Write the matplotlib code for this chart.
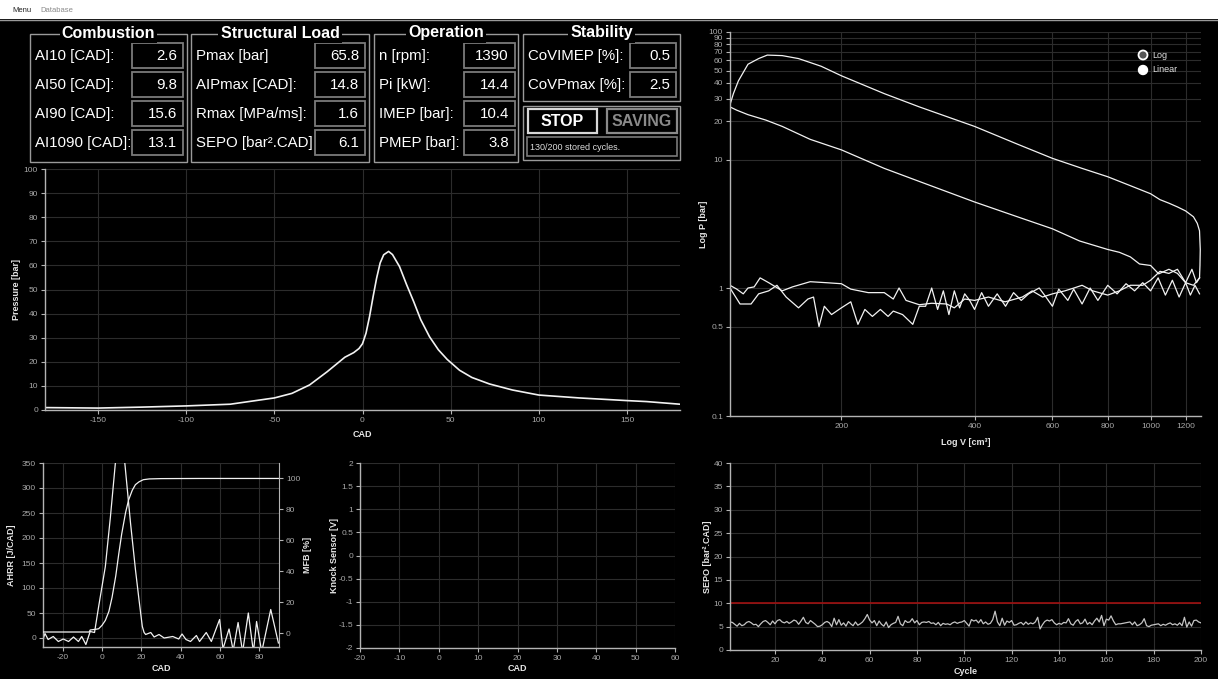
import matplotlib.pyplot as plt
from matplotlib.patches import Rectangle, Circle

plt.rcParams['font.family'] = ['Liberation Sans', 'DejaVu Sans']
plt.rcParams['axes.unicode_minus'] = False

W, H = 1218, 679

# ---- indicator panel values ----
group_titles = ["Combustion", "Structural Load", "Operation", "Stability"]
combustion_labels = ["AI10 [CAD]:", "AI50 [CAD]:", "AI90 [CAD]:", "AI1090 [CAD]:"]
combustion_values = ["2.6", "9.8", "15.6", "13.1"]
structural_labels = ["Pmax [bar]", "AIPmax [CAD]:", "Rmax [MPa/ms]:", "SEPO [bar².CAD]"]
structural_values = ["65.8", "14.8", "1.6", "6.1"]
operation_labels = ["n [rpm]:", "Pi [kW]:", "IMEP [bar]:", "PMEP [bar]:"]
operation_values = ["1390", "14.4", "10.4", "3.8"]
stability_labels = ["CoVIMEP [%]:", "CoVPmax [%]:"]
stability_values = ["0.5", "2.5"]
status_text = "130/200 stored cycles."

# ---- pressure trace ----
cad = [-180, -150, -125, -100, -75, -50, -40, -30, -20, -10, -5, -2, 0, 2, 4, 6, 8, 10, 12,
       14.8, 17, 21, 25, 29, 33, 38, 43, 48, 55, 62, 72, 85, 100, 123, 150, 161, 180]
pressure = [1.0, 0.8, 1.2, 1.7, 2.4, 5.0, 6.9, 10.4, 15.9, 21.9, 23.8, 25.5, 27.5, 31.9, 38.8,
            47.0, 54.7, 61.0, 64.4, 65.8, 64.5, 59.5, 52.0, 45.0, 37.5, 30.4, 25.0, 21.0, 16.5,
            13.5, 10.8, 8.3, 6.2, 5.0, 3.9, 3.5, 2.4]

# ---- PV diagram (log-log) ----
v_exp = [112, 114, 117, 123, 130, 136, 147, 160, 180, 200, 250, 300, 400, 500, 600, 700, 800,
         900, 1000, 1050, 1100, 1150, 1200, 1250, 1275, 1290, 1295, 1293, 1290]
p_exp = [27, 33, 41.5, 56, 62, 66, 65.4, 62, 54, 45.5, 33, 26, 18.3, 13.3, 10.3, 8.6, 7.4,
         6.3, 5.45, 4.9, 4.6, 4.3, 4.0, 3.6, 3.2, 2.8, 2.0, 1.5, 1.2]
v_comp = [1290, 1250, 1200, 1150, 1100, 1043, 1000, 944, 900, 850, 800, 691, 600, 500, 400,
          300, 250, 200, 170, 147, 135, 123, 116, 112]
p_comp = [1.2, 1.05, 1.1, 1.3, 1.4, 1.29, 1.5, 1.54, 1.75, 1.9, 2.0, 2.33, 2.9, 3.6, 4.7,
          6.8, 8.6, 12, 14.5, 18.3, 20.5, 22.6, 24.5, 26]
v_exh = [1290, 1270, 1240, 1200, 1150, 1100, 1050, 1000, 960, 900, 850, 800, 740, 700, 671,
         640, 600, 570, 540, 513, 469, 430, 400, 380, 360, 346, 320, 300, 280, 270, 262, 250,
         230, 210, 200, 185, 170, 155, 147, 137, 131, 127, 123, 120, 116, 112]
p_exh = [1.2, 1.1, 1.4, 1.1, 1.4, 1.3, 1.35, 1.15, 1.05, 1.05, 0.95, 0.88, 0.95, 1.05, 1.0,
         0.95, 0.9, 0.85, 0.95, 0.85, 0.78, 0.85, 0.8, 0.82, 0.7, 0.75, 0.76, 0.74, 0.8, 1.0,
         0.82, 0.92, 0.92, 0.98, 1.08, 1.1, 1.12, 1.02, 0.95, 1.1, 1.2, 1.02, 1.0, 0.9, 0.98, 1.05]
v_int = [112, 118, 125, 130, 137, 143, 150, 160, 168, 173, 178, 183, 190, 200, 210, 218, 226,
         235, 245, 255, 262, 275, 290, 300, 310, 320, 330, 340, 350, 360, 370, 380, 390, 400,
         415, 430, 450, 470, 490, 510, 530, 560, 580, 600, 620, 650, 670, 700, 730, 760, 800,
         840, 880, 920, 960, 1000, 1040, 1080, 1120, 1160, 1200, 1230, 1260, 1290]
p_int = [1.0, 0.75, 0.75, 0.9, 0.95, 1.05, 0.85, 0.7, 0.82, 0.85, 0.5, 0.72, 0.62, 0.7, 0.78,
         0.52, 0.68, 0.6, 0.68, 0.6, 0.66, 0.62, 0.52, 0.72, 0.72, 1.0, 0.68, 0.95, 0.62, 0.95,
         0.7, 0.9, 0.8, 0.68, 0.92, 0.72, 0.9, 0.72, 0.92, 0.8, 0.9, 1.0, 0.85, 0.72, 0.98, 0.8,
         0.98, 0.75, 1.0, 0.8, 1.05, 0.9, 1.08, 0.95, 1.1, 0.95, 1.2, 0.88, 1.15, 0.85, 1.1,
         0.88, 1.05, 0.9]

# ---- heat release ----
cad_hr = [-30, -29, -27.4, -24.8, -22.2, -19.7, -17, -14.5, -12, -10.3, -8.2, -6, -3.8, -1.7,
          1.7, 4.3, 6.8, 9, 11.6, 14.5, 17, 18.8, 20.5, 21.4, 22.2, 24.8, 26.5, 29, 31.6, 36,
          39, 40.7, 42.7, 45, 48, 49.6, 53, 55.6, 59.8, 61.5, 64.6, 66.7, 69.2, 71.5, 74.4, 77,
          78.6, 81.2, 85.8, 89.7]
ahrr = [-3, 9, -3, 3, -7, -2, -7, 2, -7, 3, -13, 13, 11, 63, 143, 243, 350, 410, 350, 230, 137,
        77, 23, 11, 7, 11, 2, 7, 0, 3, -2, 8, -3, -7, 5, -7, 11, -7, 37, -22, 18, -25, 31, -28,
        50, -28, 33, -28, 57, -10]
cad_mfb = [-30, -6.5, -6, -3, -1.7, 0, 1.7, 3.5, 5.1, 7, 8.5, 10, 12, 13.5, 15.4, 17, 18.8, 21,
           24, 30, 50, 90]
mfb = [0.7, 0.7, 2, 2.5, 2.8, 5, 8.2, 14, 23, 37, 51, 64, 78, 86, 92.4, 96, 97.8, 99.2, 99.7,
       99.9, 100, 100]

# ---- SEPO per cycle ----
sepo = [6.0, 5.9, 5.5, 5.1, 5.7, 5.2, 5.4, 5.9, 6.1, 5.8, 5.4, 5.5, 5.0, 5.6, 6.1, 6.3, 5.9, 5.4, 6.2, 5.6,
        6.3, 6.5, 6.0, 5.8, 6.1, 5.7, 6.0, 6.4, 6.2, 5.5, 6.2, 7.0, 5.9, 5.6, 6.3, 5.9, 5.5, 5.0, 5.1, 5.4,
        5.9, 6.1, 5.8, 5.0, 6.8, 5.4, 6.5, 5.3, 5.8, 5.1, 6.1, 5.6, 5.2, 6.0, 5.3, 5.6, 6.0, 6.7, 7.6, 6.4,
        5.8, 6.3, 5.2, 6.2, 5.5, 5.1, 6.0, 4.8, 5.4, 5.7, 5.9, 7.2, 5.6, 5.2, 6.3, 5.9, 6.0, 6.7, 5.8, 6.3,
        5.4, 5.9, 6.0, 5.9, 6.1, 5.7, 5.8, 5.4, 5.9, 5.2, 5.7, 5.5, 5.6, 5.4, 5.8, 6.0, 5.7, 5.9, 6.0, 6.3,
        5.7, 5.1, 6.5, 6.2, 6.4, 5.8, 6.5, 5.6, 6.0, 5.5, 5.7, 6.5, 8.3, 6.0, 5.2, 6.8, 5.3, 6.2, 5.9, 6.3,
        5.3, 5.4, 5.7, 5.9, 5.4, 6.0, 5.5, 5.8, 5.6, 6.0, 7.0, 4.5, 5.4, 6.1, 6.4, 6.2, 6.5, 5.8, 5.4, 5.7,
        5.5, 5.9, 5.8, 6.7, 5.6, 5.3, 6.1, 6.5, 5.6, 5.8, 6.6, 5.5, 5.9, 5.4, 6.2, 6.8, 6.0, 7.4, 5.2, 6.6,
        6.4, 7.3, 6.2, 5.4, 5.6, 5.6, 5.7, 5.8, 5.9, 6.0, 5.4, 6.0, 5.2, 5.4, 5.8, 6.7, 5.2, 5.0, 5.3, 5.4,
        5.5, 5.6, 5.2, 5.5, 5.3, 5.6, 5.8, 5.4, 5.6, 5.3, 5.8, 5.2, 7.0, 4.9, 6.0, 5.1, 6.3, 6.4, 6.0, 5.8]
cycles = list(range(1, len(sepo) + 1))
sepo_limit = 10

GRID = '#2c2c2c'
SPINE = '#b4b4b4'
TICKLBL = '#a8a8a8'
LINE = '#f2f2f2'


def rect(l, t, r, b):
    return [l / W, 1 - b / H, (r - l) / W, (b - t) / H]


def style(ax):
    ax.set_facecolor('black')
    for s in ['top', 'right']:
        ax.spines[s].set_visible(False)
    for s in ['left', 'bottom']:
        ax.spines[s].set_color(SPINE)
        ax.spines[s].set_linewidth(1.0)
    ax.tick_params(colors=SPINE, labelcolor=TICKLBL, labelsize=6, length=3, width=0.8, pad=2)
    ax.grid(True, color=GRID, lw=0.8)
    ax.set_axisbelow(True)


def labels(ax, box, xlab, xlab_y, ylab, ylab_x):
    # xlab_y / ylab_x are the label centres in pixels
    l, t, r, b = box
    ax.set_xlabel(xlab, color='#e6e6e6', fontsize=6.5, fontweight='bold')
    ax.set_ylabel(ylab, color='#e6e6e6', fontsize=6.5, fontweight='bold')
    ax.xaxis.set_label_coords(0.5, (b - (xlab_y - 4)) / (b - t))
    ax.yaxis.set_label_coords((ylab_x + 4 - l) / (r - l), 0.5)


fig = plt.figure(figsize=(W / 100, H / 100), dpi=100, facecolor='black')

# ---- overlay for window chrome and indicator boxes ----
ov = fig.add_axes([0, 0, 1, 1])
ov.set_xlim(0, W)
ov.set_ylim(H, 0)
ov.axis('off')
ov.set_zorder(10)
ov.add_patch(Rectangle((0, 0), W, 19, facecolor='white', edgecolor='none'))
ov.plot([0, W], [19.5, 19.5], color='#9a9a9a', lw=1)
ov.text(12, 10, "Menu", fontsize=5.5, color='#222222', va='center')
ov.text(40, 10, "Database", fontsize=5.5, color='#8a8a8a', va='center')

groups = [
    (combustion_labels, combustion_values, 30, 187, 132, 183, 35, 162),
    (structural_labels, structural_values, 191, 369, 315, 365, 196, 162),
    (operation_labels, operation_values, 374, 518, 464, 515, 379, 162),
    (stability_labels, stability_values, 523, 680, 630, 676, 528, 101),
]
row_tops = [43, 72, 101, 130]
for title, (labs, vals, gl, gr, vl, vr, lx, gb) in zip(group_titles, groups):
    ov.add_patch(Rectangle((gl, 34), gr - gl, gb - 34, fill=False, edgecolor='#9a9a9a', lw=1))
    ov.text((gl + gr) / 2, 33, title, fontsize=11.5, fontweight='bold', color='white',
            ha='center', va='center',
            bbox=dict(facecolor='black', edgecolor='none', pad=1.5))
    for lab, val, top in zip(labs, vals, row_tops):
        ov.add_patch(Rectangle((vl, top), vr - vl, 25, fill=False, edgecolor='#7a7a7a', lw=1.3))
        ov.text(lx, top + 13, lab, fontsize=10.8, color='white', va='center', ha='left')
        ov.text(vr - 6, top + 13, val, fontsize=10.8, color='white', va='center', ha='right')

# STOP / SAVING block
ov.add_patch(Rectangle((523, 106), 157, 54, fill=False, edgecolor='#9a9a9a', lw=1))
ov.add_patch(Rectangle((528, 109), 69, 24, fill=False, edgecolor='#d8d8d8', lw=1.6))
ov.text(562.5, 121, "STOP", fontsize=11.5, fontweight='bold', color='white', ha='center', va='center')
ov.add_patch(Rectangle((607, 109), 70, 24, fill=False, edgecolor='#8a8a8a', lw=1.6))
ov.text(642, 121, "SAVING", fontsize=11.5, fontweight='bold', color='#8a8a8a', ha='center', va='center')
ov.add_patch(Rectangle((527, 137), 150, 19, fill=False, edgecolor='#7a7a7a', lw=1.2))
ov.text(530, 147, status_text, fontsize=6.5, color='#dddddd', va='center', ha='left')

# ---- cylinder pressure ----
box = (45, 169, 680, 410)
ax = fig.add_axes(rect(*box))
style(ax)
ax.plot(cad, pressure, color=LINE, lw=1.2)
ax.set_xlim(-180, 180)
ax.set_ylim(0, 100)
ax.set_xticks([-150, -100, -50, 0, 50, 100, 150])
ax.set_yticks(range(0, 101, 10))
labels(ax, box, "CAD", 434, "Pressure [bar]", 17)

# ---- PV diagram ----
box = (730, 32, 1201, 416)
ax = fig.add_axes(rect(*box))
style(ax)
ax.set_xscale('log')
ax.set_yscale('log')
ax.plot(v_exp, p_exp, color=LINE, lw=0.9)
ax.plot(v_comp, p_comp, color=LINE, lw=0.9)
ax.plot(v_exh, p_exh, color=LINE, lw=0.9)
ax.plot(v_int, p_int, color=LINE, lw=0.9)
ax.set_xlim(112, 1300)
ax.set_ylim(0.1, 100)
xt = [200, 400, 600, 800, 1000, 1200]
ax.xaxis.set_major_locator(plt.FixedLocator(xt))
ax.xaxis.set_minor_locator(plt.NullLocator())
ax.set_xticklabels([str(v) for v in xt])
yt = [0.1, 0.5, 1, 10, 20, 30, 40, 50, 60, 70, 80, 90, 100]
ax.yaxis.set_major_locator(plt.FixedLocator(yt))
ax.yaxis.set_minor_locator(plt.NullLocator())
ax.set_yticklabels(['0.1', '0.5', '1', '10', '20', '30', '40', '50', '60', '70', '80', '90', '100'])
labels(ax, box, "Log V [cm³]", 442, "Log P [bar]", 704)

# radio buttons
ov.add_patch(Circle((1143, 55), 4.5, facecolor='#555555', edgecolor='white', lw=1.3))
ov.text(1152, 55, "Log", fontsize=6.5, color='#e0e0e0', va='center')
ov.add_patch(Circle((1143, 70), 4.5, facecolor='white', edgecolor='white', lw=1.0))
ov.text(1152, 70, "Linear", fontsize=6.5, color='#e0e0e0', va='center')

# ---- AHRR / MFB ----
box = (43, 463, 279, 647)
ax = fig.add_axes(rect(*box))
style(ax)
ax.plot(cad_hr, ahrr, color=LINE, lw=0.9)
ax.set_xlim(-30, 90)
ax.set_ylim(-18, 350)
ax.set_xticks([-20, 0, 20, 40, 60, 80])
ax.set_yticks(range(0, 351, 50))
labels(ax, box, "CAD", 668, "AHRR [J/CAD]", 12)
ax2 = ax.twinx()
ax2.plot(cad_mfb, mfb, color=LINE, lw=0.9)
ax2.set_ylim(-9, 110)
ax2.set_yticks(range(0, 101, 20))
for s in ['top', 'left', 'bottom']:
    ax2.spines[s].set_visible(False)
ax2.spines['right'].set_color(SPINE)
ax2.tick_params(colors=SPINE, labelcolor=TICKLBL, labelsize=6, length=3, width=0.8, pad=2)
ax2.set_ylabel("MFB [%]", color='#e6e6e6', fontsize=6.5, fontweight='bold')
ax2.yaxis.set_label_coords((307 - 4 - 43) / (279 - 43), 0.5)

# ---- knock sensor (empty) ----
box = (360, 463, 675, 648)
ax = fig.add_axes(rect(*box))
style(ax)
ax.set_xlim(-20, 60)
ax.set_ylim(-2, 2)
ax.set_xticks(range(-20, 61, 10))
ax.set_yticks([-2, -1.5, -1, -0.5, 0, 0.5, 1, 1.5, 2])
ax.set_yticklabels(['-2', '-1.5', '-1', '-0.5', '0', '0.5', '1', '1.5', '2'])
labels(ax, box, "CAD", 668, "Knock Sensor [V]", 335)

# ---- SEPO history ----
box = (730, 463, 1201, 650)
ax = fig.add_axes(rect(*box))
style(ax)
ax.plot(cycles, sepo, color='#c4c4c4', lw=0.9)
ax.axhline(sepo_limit, color='#a01010', lw=1.2)
ax.set_xlim(1, 200)
ax.set_ylim(0, 40)
ax.set_xticks(range(20, 201, 20))
ax.set_yticks(range(0, 41, 5))
labels(ax, box, "Cycle", 671, "SEPO [bar².CAD]", 708)

fig.savefig("out.png", dpi=100, facecolor='black')
